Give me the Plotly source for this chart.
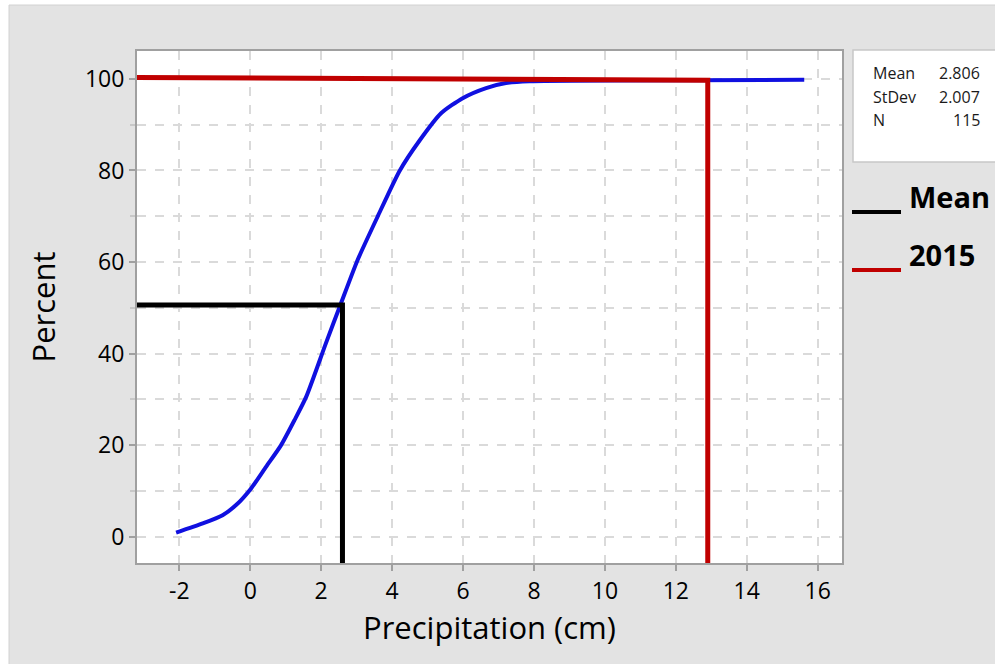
import plotly.graph_objects as go

# ---- data ----
cdf_x = [-2.09, -1.34, -0.78, -0.40, 0.03, 0.45, 0.87, 1.25, 1.58, 2.14, 2.56,
         3.03, 3.59, 4.21, 4.77, 5.38, 5.99, 6.65, 7.21, 7.87, 15.62]
cdf_y = [0.9, 2.9, 4.7, 6.9, 10.6, 15.3, 20.0, 25.5, 30.6, 42.4, 51.0,
         60.5, 69.9, 79.9, 86.5, 92.5, 95.8, 98.0, 99.1, 99.5, 99.8]

mean_x = 2.6
mean_pct = 50.6
year2015_x = 12.9
year2015_pct_start = 100.3
year2015_pct_end = 99.7

x_tickvals = [-2, 0, 2, 4, 6, 8, 10, 12, 14, 16]
x_ticktext = ["-2", "0", "2", "4", "6", "8", "10", "12", "14", "16"]
y_tickvals = [0, 20, 40, 60, 80, 100]
y_ticktext = ["0", "20", "40", "60", "80", "100"]

stats_labels = ["Mean", "StDev", "N"]
stats_values = ["2.806", "2.007", "115"]
legend_labels = ["Mean", "2015"]
legend_colors = ["#000000", "#c00000"]

X_RANGE = [-3.193, 16.685]
Y_RANGE = [-5.75, 106.1]

FONT = "Open Sans, DejaVu Sans, sans-serif"
W, H = 995, 664
L, R, T, B = 137, 153, 51, 101
PW, PH = W - L - R, H - T - B

def px(xp):
    return (xp - L) / PW

def py(yp):
    return (H - B - yp) / PH

fig = go.Figure()

fig.add_trace(go.Scatter(x=cdf_x, y=cdf_y, mode="lines",
                         line=dict(color="#1010e0", width=4, shape="spline", smoothing=0.6),
                         hoverinfo="skip"))
fig.add_trace(go.Scatter(x=[X_RANGE[0] - 1, mean_x, mean_x],
                         y=[mean_pct, mean_pct, Y_RANGE[0] - 10], mode="lines",
                         line=dict(color="#000000", width=5), hoverinfo="skip"))
fig.add_trace(go.Scatter(x=[X_RANGE[0], year2015_x, year2015_x],
                         y=[year2015_pct_start, year2015_pct_end, Y_RANGE[0] - 10], mode="lines",
                         line=dict(color="#c00000", width=5), hoverinfo="skip"))

shapes = [
    # outer gray frame
    dict(type="rect", xref="paper", yref="paper", layer="below",
         x0=px(9), x1=px(W + 5), y0=py(H + 5), y1=py(5),
         fillcolor="#e3e3e3", line=dict(color="#d2d2d2", width=1)),
    # white plot area
    dict(type="rect", xref="paper", yref="paper", layer="below",
         x0=0, x1=1, y0=0, y1=1, fillcolor="#ffffff", line=dict(width=0)),
    # stats box
    dict(type="rect", xref="paper", yref="paper",
         x0=px(853), x1=px(W + 10), y0=py(162), y1=py(50),
         fillcolor="#ffffff", line=dict(color="#c8c8c8", width=1.5)),
]
annotations = []
for i, (lab, val) in enumerate(zip(stats_labels, stats_values)):
    yy = py(73 + i * 23.5)
    annotations.append(dict(xref="paper", yref="paper", x=px(871), y=yy, text=lab,
                            showarrow=False, xanchor="left", yanchor="middle",
                            font=dict(family=FONT, size=16, color="#1a1a1a")))
    annotations.append(dict(xref="paper", yref="paper", x=px(982), y=yy, text=val,
                            showarrow=False, xanchor="right", yanchor="middle",
                            font=dict(family=FONT, size=16, color="#1a1a1a")))

leg_line_y = [212, 270]
leg_text_y = [196, 254]
for lab, col, ly, ty in zip(legend_labels, legend_colors, leg_line_y, leg_text_y):
    shapes.append(dict(type="line", xref="paper", yref="paper",
                       x0=px(852), x1=px(901), y0=py(ly), y1=py(ly),
                       line=dict(color=col, width=4)))
    annotations.append(dict(xref="paper", yref="paper", x=px(907), y=py(ty), text="<b>%s</b>" % lab,
                            showarrow=False, xanchor="left", yanchor="middle",
                            font=dict(family=FONT, size=29, color="#000000")))

grid = dict(showgrid=True, gridcolor="#dadada", gridwidth=2, griddash="dash")

fig.update_layout(
    width=W, height=H,
    margin=dict(l=L, r=R, t=T, b=B),
    paper_bgcolor="#ffffff", plot_bgcolor="#ffffff",
    showlegend=False,
    shapes=shapes, annotations=annotations,
    font=dict(family=FONT, color="#000000"),
    xaxis=dict(range=X_RANGE, tickmode="array", tickvals=x_tickvals, ticktext=x_ticktext,
               ticks="outside", ticklen=6, tickwidth=2, tickcolor="#a0a0a0",
               tickfont=dict(family=FONT, size=23, color="#000000"),
               showline=True, linecolor="#a0a0a0", linewidth=2, mirror=True,
               zeroline=False, **grid,
               title=dict(text="Precipitation (cm)", standoff=5,
                          font=dict(family=FONT, size=31, color="#000000"))),
    yaxis=dict(range=Y_RANGE, tickmode="array", tickvals=y_tickvals, ticktext=y_ticktext,
               ticks="outside", ticklen=6, tickwidth=2, tickcolor="#a0a0a0",
               tickfont=dict(family=FONT, size=23, color="#000000"),
               showline=True, linecolor="#a0a0a0", linewidth=2, mirror=True,
               zeroline=False, **grid,
               minor=dict(dtick=10, tick0=0, ticks="outside", ticklen=5, tickwidth=2,
                          tickcolor="#c8c8c8", showgrid=True, gridcolor="#dadada",
                          gridwidth=2, griddash="dash"),
               title=dict(text="Percent", standoff=20,
                          font=dict(family=FONT, size=31, color="#000000"))),
)

fig.write_html("out.html")
